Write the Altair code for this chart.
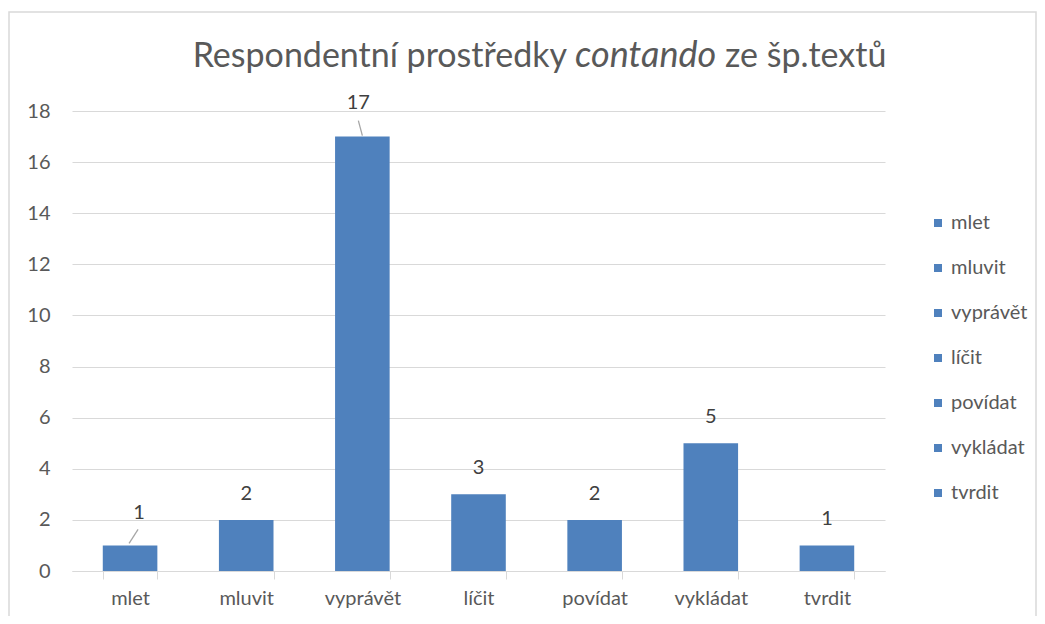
import altair as alt
import pandas as pd

categories = ["mlet", "mluvit", "vyprávět", "líčit", "povídat", "vykládat", "tvrdit"]
values = [1, 2, 17, 3, 2, 5, 1]

df = pd.DataFrame({"kategorie": categories, "hodnota": values})

BLUE = "#4F81BD"
GRAY = "#595959"
GRID = "#D9D9D9"
FONT = "Lato"
FS = 20

xs = alt.X("kategorie:N", sort=categories)
x2s = alt.X2("kategorie:N")

x = alt.X("kategorie:N", sort=categories, title=None,
          scale=alt.Scale(paddingInner=0.53, paddingOuter=0.265),
          axis=alt.Axis(labelAngle=0, labelFontSize=FS, labelColor=GRAY, labelFont=FONT,
                        labelPadding=9, domainColor=GRID, tickColor=GRID, tickSize=8,
                        tickBand="extent", grid=False))
y = alt.Y("hodnota:Q", title=None,
          scale=alt.Scale(domain=[0, 18]),
          axis=alt.Axis(values=list(range(0, 19, 2)), labelFontSize=FS, labelColor=GRAY,
                        labelFont=FONT, labelPadding=22, domain=False, ticks=False,
                        gridColor=GRID, gridWidth=1))

base = alt.Chart(df)

frame = alt.Chart(pd.DataFrame({"f": [0]})).mark_rect(
    fill=None, stroke=GRID, strokeWidth=1.5
).encode(x=alt.value(-63), x2=alt.value(964), y=alt.value(-99), y2=alt.value(560))

bars = base.mark_bar(color=BLUE).encode(
    x=x, y=y,
    color=alt.Color("kategorie:N", sort=categories,
                    scale=alt.Scale(domain=categories, range=[BLUE] * len(categories)),
                    legend=alt.Legend(title=None, orient="none", legendX=856, legendY=102,
                                      symbolType="square", symbolSize=64, labelFontSize=FS,
                                      labelColor=GRAY, labelFont=FONT, rowPadding=25,
                                      symbolStrokeWidth=0, labelOffset=3)),
)

normal = "datum.kategorie != 'mlet' && datum.kategorie != 'vyprávět'"
labels = base.transform_filter(normal).mark_text(
    baseline="middle", dy=-26, fontSize=FS, color="#404040", font=FONT
).encode(x=xs, y="hodnota:Q", text="hodnota:Q")

lab_mlet = base.transform_filter("datum.kategorie == 'mlet'").mark_text(
    baseline="middle", dy=-32, dx=9, fontSize=FS, color="#404040", font=FONT
).encode(x=xs, y="hodnota:Q", text="hodnota:Q")
lead_mlet = base.transform_filter("datum.kategorie == 'mlet'").mark_rule(
    color="#A6A6A6", strokeWidth=1.3, yOffset=-2, y2Offset=-16, xOffset=-1, x2Offset=8
).encode(x=xs, x2=x2s, y="hodnota:Q", y2="hodnota:Q")

lab_17 = base.transform_filter("datum.kategorie == 'vyprávět'").mark_text(
    baseline="middle", dy=-34, dx=-4, fontSize=FS, color="#404040", font=FONT
).encode(x=xs, y="hodnota:Q", text="hodnota:Q")
lead_17 = base.transform_filter("datum.kategorie == 'vyprávět'").mark_rule(
    color="#A6A6A6", strokeWidth=1.3, yOffset=-1, y2Offset=-16, xOffset=0, x2Offset=-4
).encode(x=xs, x2=x2s, y="hodnota:Q", y2="hodnota:Q")

TS = 34
t1 = alt.Chart(pd.DataFrame({"t": ["Respondentní prostředky"]})).mark_text(
    align="right", baseline="alphabetic", fontSize=TS, color=GRAY, font=FONT
).encode(x=alt.value(495), y=alt.value(-44), text="t:N")
t2 = alt.Chart(pd.DataFrame({"t": ["contando"]})).mark_text(
    align="left", baseline="alphabetic", fontSize=36, color=GRAY, font=FONT, fontStyle="italic"
).encode(x=alt.value(503), y=alt.value(-44), text="t:N")
t3 = alt.Chart(pd.DataFrame({"t": ["ze šp.textů"]})).mark_text(
    align="left", baseline="alphabetic", fontSize=TS, color=GRAY, font=FONT
).encode(x=alt.value(653), y=alt.value(-44), text="t:N")

chart = alt.layer(frame, bars, lead_mlet, lead_17, labels, lab_mlet, lab_17, t1, t2, t3).properties(
    width=813, height=460,
    autosize=alt.AutoSizeParams(type="none"),
    padding={"left": 64, "top": 103, "right": 152, "bottom": 45},
).configure_view(stroke=None)

chart.save("out.html", embed_options={"renderer": "svg", "actions": False})
